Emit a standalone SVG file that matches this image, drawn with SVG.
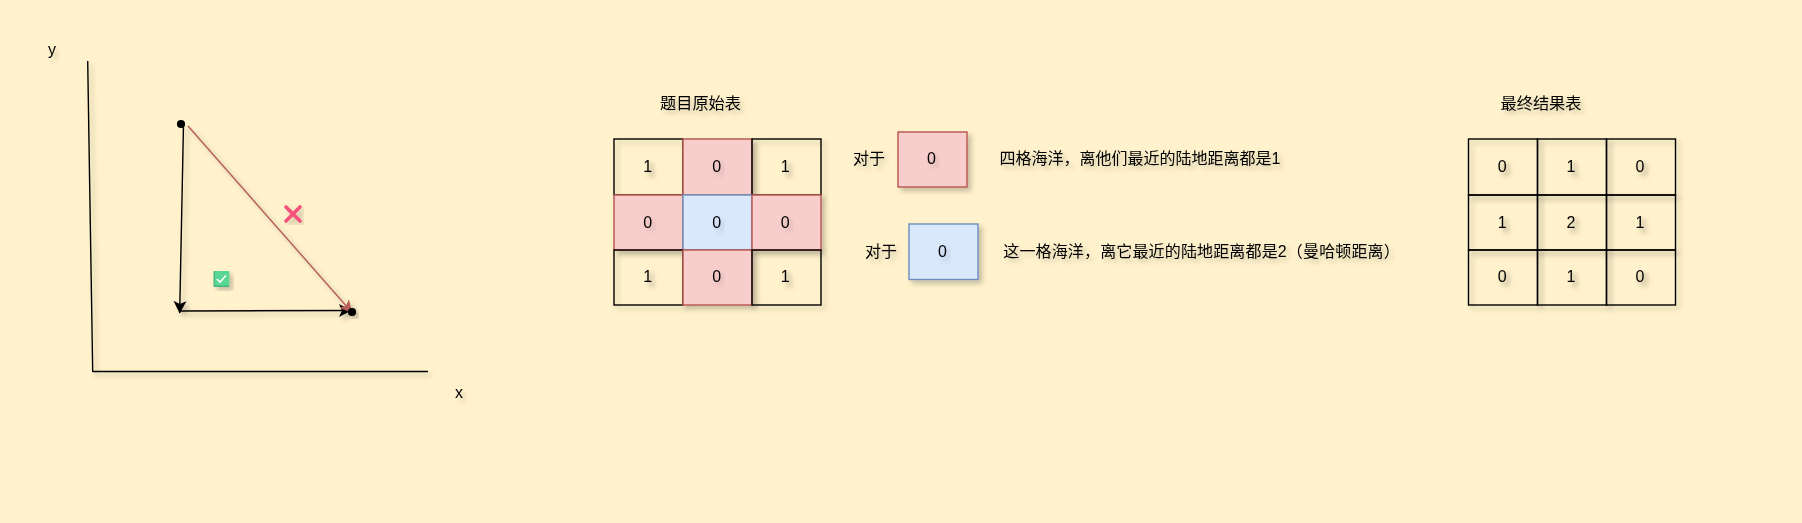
<svg xmlns="http://www.w3.org/2000/svg" width="1802" height="523" viewBox="0 0 1802 523">
<style>
text{font-family:"Liberation Sans","Noto Sans CJK SC",sans-serif;font-size:16px;fill:#000;text-anchor:middle;filter:url(#ts)}
.s{filter:url(#sh)}
.k{fill:none;stroke:#000;stroke-width:1.4}
.r{fill:#f8cecc;stroke:#b85450;stroke-width:1.4}
.b{fill:#dae8fc;stroke:#6c8ebf;stroke-width:1.4}
.l{fill:none;stroke:#000;stroke-width:1.4}
.lr{fill:none;stroke:#b5605c;stroke-width:1.5}
.t{font-size:16.2px}
.w{letter-spacing:0.15px}
</style>
<defs>
<filter id="sh" x="-25%" y="-25%" width="150%" height="150%"><feDropShadow dx="3.5" dy="3.5" stdDeviation="2.4" flood-color="#000" flood-opacity="0.22"/></filter>
<filter id="shl" x="60" y="40" width="400" height="350" filterUnits="userSpaceOnUse"><feDropShadow dx="3.5" dy="3.5" stdDeviation="2.4" flood-color="#000" flood-opacity="0.24"/></filter>
<filter id="ts" x="-40%" y="-40%" width="180%" height="180%"><feDropShadow dx="3.500" dy="3.500" stdDeviation="2.4" flood-color="#000" flood-opacity="0.2"/></filter>
<marker id="ak" markerWidth="16" markerHeight="16" refX="13" refY="8" orient="auto" markerUnits="userSpaceOnUse"><path d="M1 1.500L13.500 8L1 14.500L4 8Z" fill="#000"/></marker>
<marker id="ar" markerWidth="16" markerHeight="16" refX="13" refY="8" orient="auto" markerUnits="userSpaceOnUse"><path d="M1 1.500L13.500 8L1 14.500L4 8Z" fill="#b5605c"/></marker>
</defs>
<rect width="1802" height="523" fill="#fff2cc"/>

<g id="connectors" filter="url(#shl)">
<path class="l" d="M87.7 61L92.7 372"/>
<path class="l" d="M93 371.500H428"/>
<path class="l" d="M183.500 124L179.700 313" marker-end="url(#ak)"/>
<path class="l" d="M180 311L351 310.500" marker-end="url(#ak)"/>
<path class="lr" d="M188 126L352 312.500" marker-end="url(#ar)"/>
</g>
<g id="point-a"><circle cx="181" cy="124" r="4.1" fill="#000"/></g>
<g id="point-b" class="s"><circle cx="352" cy="312" r="4.1" fill="#000"/></g>
<g id="label-y"><text x="52" y="55">y</text></g>
<g id="label-x"><text x="459" y="398">x</text></g>
<g id="cross-icon" class="s"><path d="M286 207L300 221M300 207L286 221" fill="none" stroke="#f5517c" stroke-width="3.6" stroke-linecap="round"/></g>
<g id="check-icon" class="s"><rect x="213.500" y="271" width="15.700" height="16" rx="1" fill="#48b87e"/><rect x="215" y="271" width="14.200" height="14.500" rx="1" fill="#59d694"/><path d="M216.800 279L220 282L226 275.500" fill="none" stroke="#fff" stroke-width="1.600"/></g>

<g id="title-original"><text class="t" x="700.500" y="109">题目原始表</text></g>
<g id="c00" class="s"><rect class="k" x="614" y="139" width="69" height="56"/><text x="647.700" y="172">1</text></g>
<g id="c01" class="s"><rect class="r" x="683" y="139" width="69" height="56"/><text x="716.700" y="172">0</text></g>
<g id="c02" class="s"><rect class="k" x="752" y="139" width="69" height="56"/><text x="785.300" y="172">1</text></g>
<g id="c10" class="s"><rect class="r" x="614" y="195" width="69" height="55"/><text x="647.700" y="228">0</text></g>
<g id="c11" class="s"><rect class="b" x="683" y="195" width="69" height="55"/><text x="716.700" y="228">0</text></g>
<g id="c12" class="s"><rect class="r" x="752" y="195" width="69" height="55"/><text x="785.300" y="228">0</text></g>
<g id="c20" class="s"><rect class="k" x="614" y="250" width="69" height="55"/><text x="647.700" y="282">1</text></g>
<g id="c21" class="s"><rect class="r" x="683" y="250" width="69" height="55"/><text x="716.700" y="282">0</text></g>
<g id="c22" class="s"><rect class="k" x="752" y="250" width="69" height="55"/><text x="785.300" y="282">1</text></g>

<g id="label-for-red"><text x="869" y="164">对于</text></g>
<g id="legend-red" class="s"><rect class="r" x="898" y="132" width="69" height="55"/><text x="931.500" y="164">0</text></g>
<g id="desc-red"><text x="1140" y="164">四格海洋，离他们最近的陆地距离都是1</text></g>
<g id="label-for-blue"><text x="881" y="257">对于</text></g>
<g id="legend-blue" class="s"><rect class="b" x="909" y="224" width="69" height="55.500"/><text x="942.500" y="257">0</text></g>
<g id="desc-blue"><text class="w" x="1201.600" y="257">这一格海洋，离它最近的陆地距离都是2（曼哈顿距离）</text></g>

<g id="title-result"><text class="t" x="1541" y="109">最终结果表</text></g>
<g id="r00" class="s"><rect class="k" x="1468.500" y="139" width="69" height="56"/><text x="1502.300" y="172">0</text></g>
<g id="r01" class="s"><rect class="k" x="1537.500" y="139" width="69" height="56"/><text x="1571" y="172">1</text></g>
<g id="r02" class="s"><rect class="k" x="1606.500" y="139" width="69" height="56"/><text x="1640" y="172">0</text></g>
<g id="r10" class="s"><rect class="k" x="1468.500" y="195" width="69" height="55"/><text x="1502.300" y="228">1</text></g>
<g id="r11" class="s"><rect class="k" x="1537.500" y="195" width="69" height="55"/><text x="1571" y="228">2</text></g>
<g id="r12" class="s"><rect class="k" x="1606.500" y="195" width="69" height="55"/><text x="1640" y="228">1</text></g>
<g id="r20" class="s"><rect class="k" x="1468.500" y="250" width="69" height="55"/><text x="1502.300" y="282">0</text></g>
<g id="r21" class="s"><rect class="k" x="1537.500" y="250" width="69" height="55"/><text x="1571" y="282">1</text></g>
<g id="r22" class="s"><rect class="k" x="1606.500" y="250" width="69" height="55"/><text x="1640" y="282">0</text></g>
</svg>
